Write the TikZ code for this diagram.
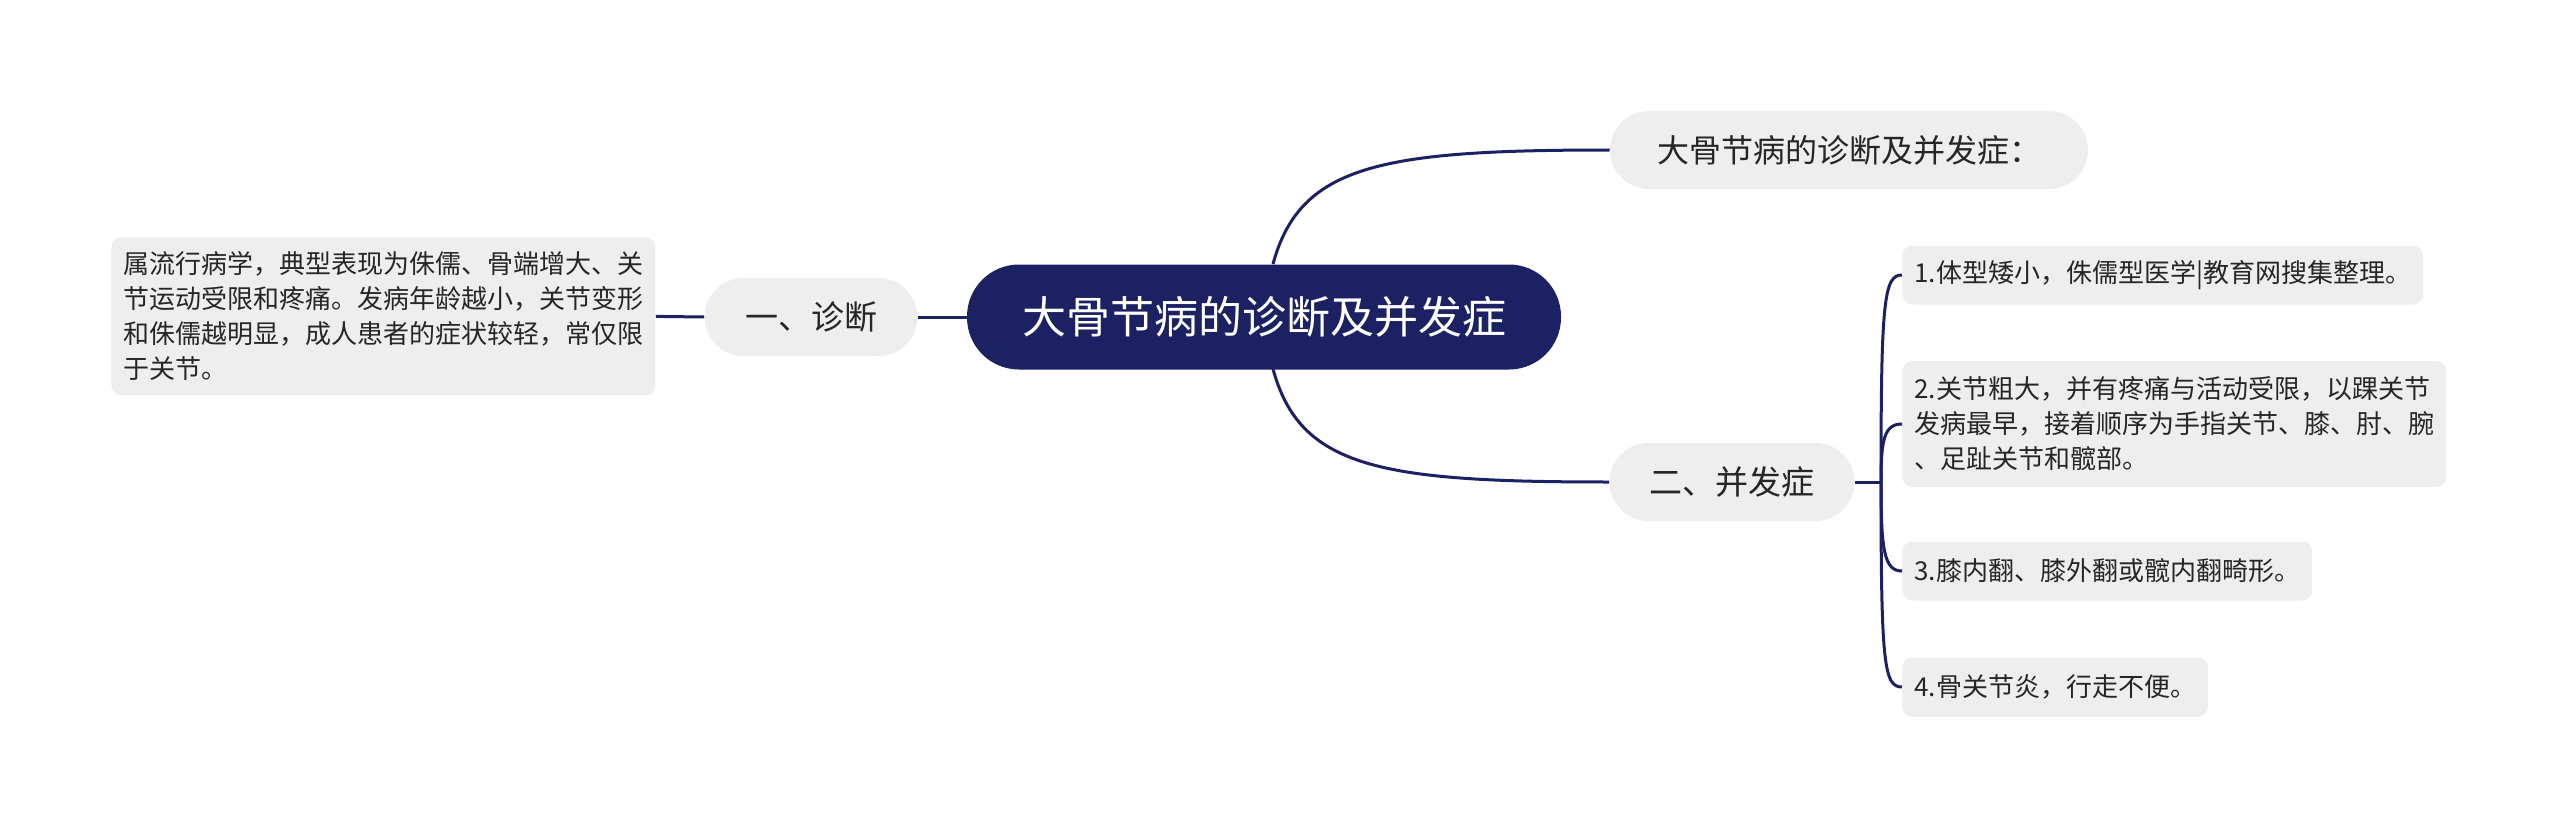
\documentclass[tikz,border=0pt]{standalone}
\usepackage{fontspec}
\setmainfont{Noto Sans CJK SC}
\definecolor{navy}{HTML}{1B2163}
\definecolor{pillgray}{HTML}{EEEEEE}
\definecolor{ink}{HTML}{262626}
\tikzset{
  conn/.style={draw=navy, line width=1.5pt},
  rootnode/.style={fill=navy, text=white, rounded corners=26pt, minimum width=297pt, minimum height=52.5pt, inner sep=0pt, font=\fontsize{22}{26}\selectfont},
  pillnode/.style={fill=pillgray, text=ink, rounded corners=19.5pt, minimum height=39pt, inner sep=0pt, font=\fontsize{16.5}{20}\selectfont},
  leafnode/.style={fill=pillgray, text=ink, rounded corners=5pt, inner xsep=6pt, inner ysep=0pt, align=left, anchor=west, font=\fontsize{13}{17.5}\selectfont},
}
\begin{document}
\begin{tikzpicture}[x=0.5pt,y=-0.5pt]
\useasboundingbox[fill=white] (0,0) rectangle (2560,829);
% nodes
\node[rootnode] (c) at (1264,317) {大骨节病的诊断及并发症};
\node[pillnode, minimum width=239pt, font=\fontsize{16}{20}\selectfont] (top) at (1849,150) {大骨节病的诊断及并发症：};
\node[pillnode, minimum width=106.5pt] (dx) at (811,317) {一、诊断};
\node[pillnode, minimum width=122.5pt] (cp) at (1732,482) {二、并发症};
\node[leafnode, anchor=north west, minimum height=79pt, inner xsep=6pt] (ltxt) at (111,237) {属流行病学，典型表现为侏儒、骨端增大、关\\节运动受限和疼痛。发病年龄越小，关节变形\\和侏儒越明显，成人患者的症状较轻，常仅限\\于关节。};
\node[leafnode, minimum height=29.5pt] (i1) at (1902,275) {1.体型矮小，侏儒型医学|教育网搜集整理。};
\node[leafnode, minimum height=63pt] (i2) at (1902,424) {2.关节粗大，并有疼痛与活动受限，以踝关节\\发病最早，接着顺序为手指关节、膝、肘、腕\\、足趾关节和髋部。};
\node[leafnode, minimum height=29.5pt] (i3) at (1902,571) {3.膝内翻、膝外翻或髋内翻畸形。};
\node[leafnode, minimum height=29.5pt] (i4) at (1902,687) {4.骨关节炎，行走不便。};
% connectors
\coordinate (ct) at (1273,264);
\coordinate (cb) at (1273,369);
\draw[conn] (ct) .. controls (1300,165) and (1380,150) .. (top.west);
\draw[conn] (cb) .. controls (1300,468) and (1380,482) .. (cp.west);
\draw[conn] (c.west) -- (dx.east);
\draw[conn] (dx.west) -- (ltxt.east);
\coordinate (br) at (1881,482);
\draw[conn] (cp.east) -- (br);
\draw[conn] (br) .. controls (1881,300) and (1884,275) .. (i1.west);
\draw[conn] (br) .. controls (1881,440) and (1884,424) .. (i2.west);
\draw[conn] (br) .. controls (1881,550) and (1884,571) .. (i3.west);
\draw[conn] (br) .. controls (1881,665) and (1884,687) .. (i4.west);
\end{tikzpicture}
\end{document}
